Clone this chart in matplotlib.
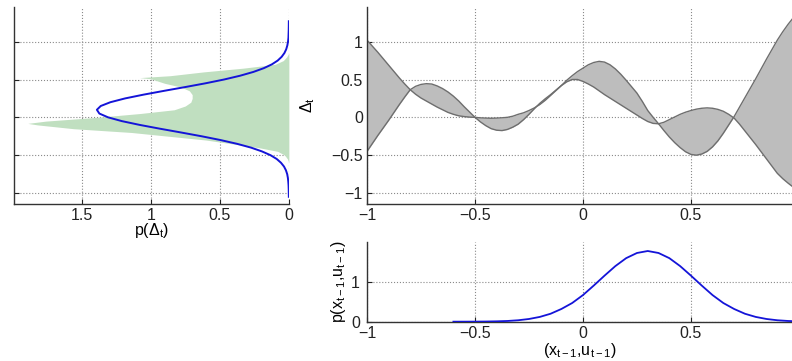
import matplotlib
matplotlib.use("Agg")
import matplotlib.pyplot as plt
import numpy as np

plt.rcParams['font.family'] = ['Liberation Sans', 'DejaVu Sans']
plt.rcParams['mathtext.fontset'] = 'custom'
plt.rcParams['mathtext.rm'] = 'Liberation Sans'
plt.rcParams['mathtext.it'] = 'Liberation Sans'
plt.rcParams['mathtext.bf'] = 'Liberation Sans:bold'

# --- top right: two crossing functions of (x_{t-1}, u_{t-1}), read every 0.025 ---
x_top = [round(-1.0 + 0.025 * i, 3) for i in range(81)]
curve_a = [1.02, 0.94, 0.86, 0.775, 0.69, 0.605, 0.52, 0.44, 0.365, 0.305,
           0.255, 0.215, 0.175, 0.135, 0.10, 0.065, 0.04, 0.02, 0.01, 0.003,
           0.00, -0.007, -0.01, -0.012, -0.01, -0.006, 0.00, 0.015, 0.04, 0.06,
           0.09, 0.125, 0.17, 0.225, 0.29, 0.355, 0.42, 0.47, 0.50, 0.50,
           0.475, 0.44, 0.40, 0.35, 0.30, 0.255, 0.21, 0.165, 0.12, 0.075,
           0.03, -0.015, -0.055, -0.08, -0.085, -0.065, -0.03, 0.005, 0.04, 0.068,
           0.09, 0.108, 0.12, 0.125, 0.12, 0.105, 0.08, 0.04, -0.01, -0.09,
           -0.18, -0.27, -0.36, -0.455, -0.55, -0.645, -0.74, -0.81, -0.87, -0.925,
           -0.98]
curve_b = [-0.45, -0.345, -0.24, -0.14, -0.04, 0.065, 0.17, 0.27, 0.365, 0.41,
           0.435, 0.445, 0.44, 0.415, 0.38, 0.335, 0.28, 0.215, 0.14, 0.07,
           0.00, -0.06, -0.11, -0.15, -0.17, -0.175, -0.16, -0.13, -0.09, -0.03,
           0.04, 0.115, 0.185, 0.245, 0.30, 0.36, 0.42, 0.49, 0.55, 0.605,
           0.65, 0.695, 0.725, 0.74, 0.73, 0.695, 0.64, 0.57, 0.49, 0.405,
           0.32, 0.21, 0.09, 0.00, -0.085, -0.175, -0.26, -0.335, -0.40, -0.455,
           -0.49, -0.50, -0.485, -0.45, -0.39, -0.31, -0.21, -0.10, 0.01, 0.135,
           0.26, 0.385, 0.51, 0.64, 0.77, 0.895, 1.02, 1.13, 1.23, 1.32,
           1.40]

# --- bottom right: density of (x_{t-1}, u_{t-1}) ---
x_in = [-0.60, -0.55, -0.50, -0.45, -0.40, -0.35, -0.30, -0.25, -0.20, -0.15,
        -0.10, -0.05, 0.00, 0.05, 0.10, 0.15, 0.20, 0.25, 0.30, 0.35,
        0.40, 0.45, 0.50, 0.55, 0.60, 0.65, 0.70, 0.75, 0.80, 0.85,
        0.90, 0.95, 1.00]
p_in = [0.0003, 0.0007, 0.0018, 0.004, 0.009, 0.018, 0.036, 0.068, 0.12, 0.20,
        0.32, 0.47, 0.67, 0.91, 1.16, 1.40, 1.60, 1.73, 1.78, 1.73,
        1.60, 1.40, 1.16, 0.91, 0.67, 0.47, 0.32, 0.20, 0.12, 0.068,
        0.036, 0.018, 0.009]

# --- left: output density p(Delta_t), true (green) and Gaussian approx (blue) ---
delta_true = [-0.60, -0.55, -0.50, -0.45, -0.40, -0.35, -0.30, -0.25, -0.20, -0.15,
              -0.10, -0.08, -0.05, 0.00, 0.05, 0.10, 0.15, 0.20, 0.25, 0.30,
              0.35, 0.40, 0.45, 0.51, 0.525, 0.55, 0.60, 0.65, 0.70, 0.75,
              0.80, 0.85]
p_true = [0.00, 0.01, 0.03, 0.08, 0.22, 0.41, 0.60, 0.87, 1.14, 1.56,
          1.82, 1.89, 1.76, 1.39, 1.08, 0.83, 0.75, 0.71, 0.70, 0.70,
          0.72, 0.78, 0.90, 1.00, 1.08, 0.86, 0.62, 0.33, 0.10, 0.04,
          0.015, 0.0]

delta_gauss = [-1.05, -1.00, -0.95, -0.90, -0.85, -0.80, -0.75, -0.70, -0.65, -0.60,
               -0.55, -0.50, -0.45, -0.40, -0.35, -0.30, -0.25, -0.20, -0.15, -0.10,
               -0.05, 0.00, 0.05, 0.10, 0.15, 0.20, 0.25, 0.30, 0.35, 0.40,
               0.45, 0.50, 0.55, 0.60, 0.65, 0.70, 0.75, 0.80, 0.85, 0.90,
               0.95, 1.00, 1.05, 1.10, 1.15, 1.20, 1.27]
p_gauss = [0.000, 0.0005, 0.001, 0.002, 0.004, 0.007, 0.012, 0.021, 0.035, 0.057,
           0.088, 0.133, 0.195, 0.274, 0.375, 0.495, 0.632, 0.781, 0.934, 1.080,
           1.209, 1.309, 1.372, 1.390, 1.362, 1.292, 1.186, 1.052, 0.904, 0.751,
           0.603, 0.469, 0.353, 0.257, 0.181, 0.123, 0.081, 0.052, 0.032, 0.019,
           0.011, 0.006, 0.003, 0.002, 0.001, 0.0005, 0.000]

delta_ticks = [-1, -0.5, 0, 0.5, 1]
x_ticks = [-1, -0.5, 0, 0.5]

GRID = dict(color='#8a8a8a', linestyle=':', linewidth=0.8)
BLUE = '#1414d8'

fig = plt.figure(figsize=(7.92, 3.61), dpi=100)

def style(ax):
    for s in ['top', 'right']:
        ax.spines[s].set_visible(False)
    for s in ['left', 'bottom']:
        ax.spines[s].set_linewidth(1.0)
        ax.spines[s].set_color('#333333')
    ax.tick_params(direction='in', length=3.5, width=0.8, labelsize=11.5,
                   colors='#222222', pad=3)
    ax.set_axisbelow(True)
    ax.grid(True, **GRID)

# left panel
ax_l = fig.add_axes([0.0177, 0.436, 0.347, 0.545])
ax_l.fill_betweenx(delta_true, 0, p_true, color='#c0dfc0', linewidth=0)
ax_l.plot(p_gauss, delta_gauss, color=BLUE, linewidth=1.4)
ax_l.set_xlim(1.99, 0)
ax_l.set_ylim(-1.14, 1.46)
ax_l.set_xticks([0, 0.5, 1, 1.5])
ax_l.set_xticklabels(['0', '0.5', '1', '1.5'])
ax_l.set_yticks(delta_ticks)
ax_l.set_yticklabels([])
style(ax_l)
ax_l.set_xlabel(r'p($\Delta_t$)', fontsize=11.5, labelpad=-1)

# top right panel
ax_t = fig.add_axes([0.4634, 0.436, 0.5366, 0.545])
ax_t.fill_between(x_top, curve_a, curve_b, color='#bdbdbd', linewidth=0)
ax_t.plot(x_top, curve_a, color='#6e6e6e', linewidth=1.0)
ax_t.plot(x_top, curve_b, color='#6e6e6e', linewidth=1.0)
ax_t.set_xlim(-1, 0.968)
ax_t.set_ylim(-1.14, 1.46)
ax_t.set_xticks(x_ticks)
ax_t.set_xticklabels(['\u22121', '\u22120.5', '0', '0.5'])
ax_t.set_yticks(delta_ticks)
ax_t.set_yticklabels(['\u22121', '\u22120.5', '0', '0.5', '1'])
style(ax_t)
ax_t.set_ylabel(r'$\Delta_t$', fontsize=11.5, labelpad=10)

# bottom right panel
ax_b = fig.add_axes([0.4634, 0.1089, 0.5366, 0.22])
ax_b.plot(x_in, p_in, color=BLUE, linewidth=1.3, zorder=3)
ax_b.set_xlim(-1, 0.968)
ax_b.set_ylim(0, 2)
ax_b.set_xticks(x_ticks)
ax_b.set_xticklabels(['\u22121', '\u22120.5', '0', '0.5'])
ax_b.set_yticks([0, 1])
style(ax_b)
ax_b.tick_params(axis='y', pad=5)
ax_b.set_xlabel(r'(x$_{t-1}$,u$_{t-1}$)', fontsize=11.5, labelpad=0)
ax_b.set_ylabel(r'p(x$_{t-1}$,u$_{t-1}$)', fontsize=11.5, labelpad=2)

fig.savefig('out.png', dpi=100)
